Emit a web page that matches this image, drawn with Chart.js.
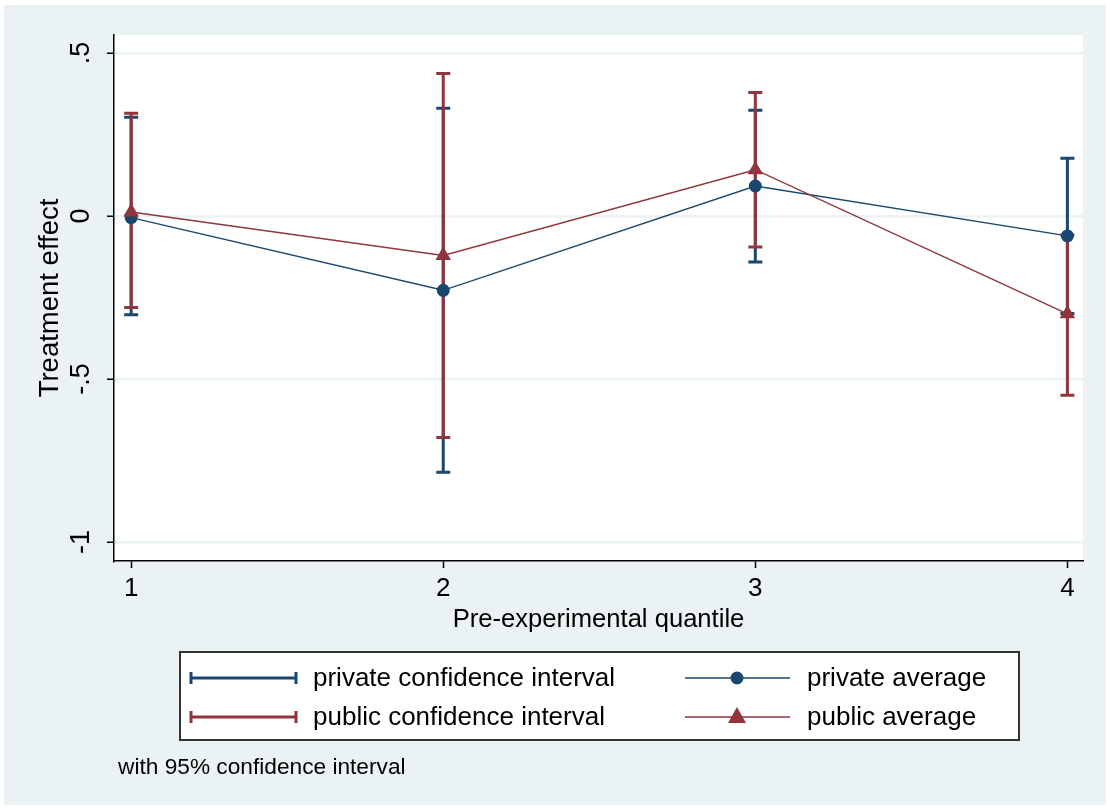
<!DOCTYPE html>
<html>
<head>
<meta charset="utf-8">
<script src="https://cdn.jsdelivr.net/npm/chart.js@4.4.1/dist/chart.umd.min.js"></script>
<style>
  body { margin: 0; background: #ffffff; }
  #wrap { width: 1110px; height: 810px; }
</style>
</head>
<body>
<div id="wrap"><canvas id="grafica" width="1110" height="810"></canvas></div>
<script>
// Datos
const cuantiles = [1, 2, 3, 4];
const privadoMedia = [-0.005, -0.228, 0.092, -0.061];
const privadoBajo = [-0.303, -0.786, -0.141, -0.299];
const privadoAlto = [0.303, 0.330, 0.324, 0.177];
const publicoMedia = [0.012, -0.121, 0.142, -0.300];
const publicoBajo = [-0.281, -0.679, -0.095, -0.550];
const publicoAlto = [0.315, 0.437, 0.379, -0.058];
const yTicks = [-1, -0.5, 0, 0.5];
const yTickLabels = ['-1', '-.5', '0', '.5'];
const xTicks = [1, 2, 3, 4];

const AZUL = '#1a476f';
const ROJO = '#90353b';
const FONDO = '#eaf2f3';
const FUENTE = '"Liberation Sans", Arial, sans-serif';

// Fondo de Stata: panel gris azulado y zona de la gráfica en blanco
const fondoPlugin = {
    id: 'fondo',
    beforeDraw(chart) {
        const ctx = chart.ctx;
        const a = chart.chartArea;
        ctx.save();
        ctx.fillStyle = '#ffffff';
        ctx.fillRect(0, 0, chart.width, chart.height);
        ctx.fillStyle = FONDO;
        ctx.fillRect(4, 5, chart.width - 8, chart.height - 10);
        ctx.fillStyle = '#ffffff';
        ctx.fillRect(a.left, a.top, a.right - a.left, a.bottom - a.top);
        ctx.restore();
    }
};

// Intervalos de confianza (rcap)
function dibujarIntervalos(chart, bajos, altos, color) {
    const ctx = chart.ctx;
    const x = chart.scales.x;
    const y = chart.scales.y;
    ctx.save();
    ctx.strokeStyle = color;
    ctx.lineWidth = 3;
    cuantiles.forEach((q, i) => {
        const px = x.getPixelForValue(q);
        const y1 = y.getPixelForValue(bajos[i]);
        const y2 = y.getPixelForValue(altos[i]);
        ctx.beginPath();
        ctx.moveTo(px, y1);
        ctx.lineTo(px, y2);
        ctx.moveTo(px - 7, y1);
        ctx.lineTo(px + 7, y1);
        ctx.moveTo(px - 7, y2);
        ctx.lineTo(px + 7, y2);
        ctx.stroke();
    });
    ctx.restore();
}

const intervalosPlugin = {
    id: 'intervalos',
    beforeDatasetsDraw(chart) {
        dibujarIntervalos(chart, privadoBajo, privadoAlto, AZUL);
        dibujarIntervalos(chart, publicoBajo, publicoAlto, ROJO);
    }
};

// Etiquetas del eje Y giradas, leyenda y nota
const textosPlugin = {
    id: 'textos',
    afterDraw(chart) {
        const ctx = chart.ctx;
        const y = chart.scales.y;
        ctx.save();
        ctx.fillStyle = '#000000';
        ctx.font = '27px ' + FUENTE;
        ctx.textAlign = 'center';
        ctx.textBaseline = 'middle';
        yTicks.forEach((v, i) => {
            ctx.save();
            ctx.translate(82, y.getPixelForValue(v));
            ctx.rotate(-Math.PI / 2);
            ctx.fillText(yTickLabels[i], 0, 0);
            ctx.restore();
        });

        // Caja de la leyenda
        ctx.fillStyle = '#ffffff';
        ctx.fillRect(180, 652, 839, 88);
        ctx.strokeStyle = '#333333';
        ctx.lineWidth = 2;
        ctx.strokeRect(180, 652, 839, 88);

        const filas = [678, 717];
        const series = [
            { color: AZUL, ci: 'private confidence interval', avg: 'private average', marca: 'circle' },
            { color: ROJO, ci: 'public confidence interval', avg: 'public average', marca: 'triangle' }
        ];
        series.forEach((s, i) => {
            const fy = filas[i];
            // clave del intervalo
            ctx.strokeStyle = s.color;
            ctx.lineWidth = 3;
            ctx.beginPath();
            ctx.moveTo(191, fy); ctx.lineTo(296, fy);
            ctx.moveTo(191, fy - 6); ctx.lineTo(191, fy + 6);
            ctx.moveTo(296, fy - 6); ctx.lineTo(296, fy + 6);
            ctx.stroke();
            // clave de la media
            ctx.lineWidth = 1.5;
            ctx.beginPath();
            ctx.moveTo(685, fy); ctx.lineTo(790, fy);
            ctx.stroke();
            ctx.fillStyle = s.color;
            ctx.beginPath();
            if (s.marca === 'circle') {
                ctx.arc(737, fy, 6.5, 0, Math.PI * 2);
            } else {
                ctx.moveTo(737, fy - 10);
                ctx.lineTo(746, fy + 6);
                ctx.lineTo(728, fy + 6);
                ctx.closePath();
            }
            ctx.fill();
            // textos
            ctx.fillStyle = '#000000';
            ctx.font = '26px ' + FUENTE;
            ctx.textAlign = 'left';
            ctx.textBaseline = 'middle';
            ctx.fillText(s.ci, 313, fy + 1);
            ctx.fillText(s.avg, 807, fy + 1);
        });

        ctx.font = '22.7px ' + FUENTE;
        ctx.fillText('with 95% confidence interval', 118, 768);
        ctx.restore();
    }
};

const ctx = document.getElementById('grafica').getContext('2d');
new Chart(ctx, {
    type: 'scatter',
    data: {
        datasets: [
            {
                label: 'public average',
                data: cuantiles.map((q, i) => ({ x: q, y: publicoMedia[i] })),
                showLine: true,
                borderColor: ROJO,
                backgroundColor: ROJO,
                borderWidth: 1.5,
                pointStyle: 'triangle',
                pointRadius: 9,
                pointBorderWidth: 0,
                order: 0
            },
            {
                label: 'private average',
                data: cuantiles.map((q, i) => ({ x: q, y: privadoMedia[i] })),
                showLine: true,
                borderColor: AZUL,
                backgroundColor: AZUL,
                borderWidth: 1.5,
                pointStyle: 'circle',
                pointRadius: 6.5,
                pointBorderWidth: 0,
                order: 1
            }
        ]
    },
    options: {
        responsive: false,
        animation: false,
        events: [],
        layout: { padding: { left: 0, top: 35, right: 27, bottom: 159 } },
        plugins: {
            legend: { display: false },
            tooltip: { enabled: false }
        },
        scales: {
            x: {
                type: 'linear',
                min: 0.945,
                max: 4.05,
                afterBuildTicks: (axis) => { axis.ticks = xTicks.map(v => ({ value: v })); },
                afterFit: (axis) => { axis.height = 90; },
                grid: { drawOnChartArea: false, tickColor: '#000000', tickLength: 7, tickWidth: 1.5 },
                border: { color: '#000000', width: 1.5 },
                ticks: {
                    color: '#000000',
                    font: { family: FUENTE, size: 26 },
                    padding: 5,
                    callback: (v) => String(v)
                },
                title: {
                    display: true,
                    text: 'Pre-experimental quantile',
                    color: '#000000',
                    font: { family: FUENTE, size: 25.6 },
                    padding: { top: 0, bottom: 16 }
                }
            },
            y: {
                type: 'linear',
                min: -1.058,
                max: 0.555,
                afterBuildTicks: (axis) => { axis.ticks = yTicks.map(v => ({ value: v })); },
                afterFit: (axis) => { axis.width = 114; },
                grid: { color: FONDO, lineWidth: 2.5, tickColor: '#000000', tickLength: 7, tickWidth: 1.5 },
                border: { color: '#000000', width: 1.5 },
                ticks: { callback: () => '' },
                title: {
                    display: true,
                    text: 'Treatment effect',
                    color: '#000000',
                    font: { family: FUENTE, size: 27.5 },
                    padding: { top: 34, bottom: 0 }
                }
            }
        }
    },
    plugins: [fondoPlugin, intervalosPlugin, textosPlugin]
});
</script>
</body>
</html>
